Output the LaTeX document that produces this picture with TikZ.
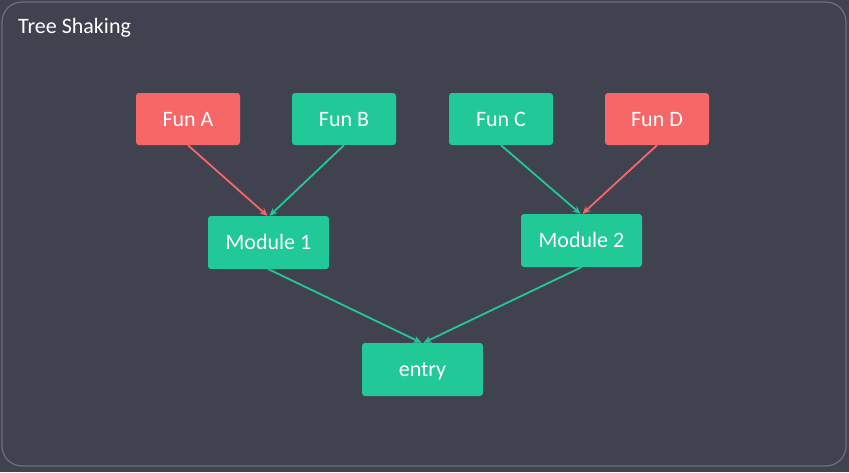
\documentclass[tikz,border=0pt]{standalone}
\usepackage{fontspec}
\setmainfont{Carlito}
\usetikzlibrary{arrows.meta}
\definecolor{bgdark}{HTML}{40434F}
\definecolor{framegray}{HTML}{6E717C}
\definecolor{keep}{HTML}{20C997}
\definecolor{drop}{HTML}{F76767}
\tikzset{
  x=1pt, y=-1pt,
  fnbox/.style={rounded corners=3pt, minimum width=104pt, minimum height=52pt,
    text=white, font=\fontsize{22}{26}\selectfont, inner sep=0pt,
    text height=14.5pt, text depth=0pt},
  modbox/.style={fnbox, minimum width=121pt, minimum height=53pt, fill=keep},
  link/.style={line width=1.8pt, -{Stealth[length=8pt,width=7pt]}},
}
\begin{document}
\begin{tikzpicture}
  % page and framed panel
  \fill[bgdark] (0,0) rectangle (849,472);
  \useasboundingbox (0,0) rectangle (849,472);
  \draw[framegray, line width=1.2pt, rounded corners=20pt] (2,2) rectangle (846,466);
  \node[anchor=west, text=white, font=\fontsize{22}{26}\selectfont, inner sep=0pt] (title) at (18,28) {Tree Shaking};

  % function boxes
  \node[fnbox, fill=drop] (fa) at (188,119) {Fun A};
  \node[fnbox, fill=keep] (fb) at (344,119) {Fun B};
  \node[fnbox, fill=keep] (fc) at (501,119) {Fun C};
  \node[fnbox, fill=drop] (fd) at (657,119) {Fun D};

  % modules and entry
  \node[modbox] (m1) at (268.5,242.5) {Module 1};
  \node[modbox] (m2) at (581.5,240.5) {Module 2};
  \node[modbox] (entry) at (422.5,369.5) {entry};

  % imports
  \draw[link, drop] (fa.south) -- ([xshift=-1pt]m1.north);
  \draw[link, keep] (fb.south) -- ([xshift=1pt]m1.north);
  \draw[link, keep] (fc.south) -- ([xshift=-1pt]m2.north);
  \draw[link, drop] (fd.south) -- ([xshift=1pt]m2.north);
  \draw[link, keep] (m1.south) -- ([xshift=-1pt]entry.north);
  \draw[link, keep] (m2.south) -- ([xshift=1pt]entry.north);
\end{tikzpicture}
\end{document}
